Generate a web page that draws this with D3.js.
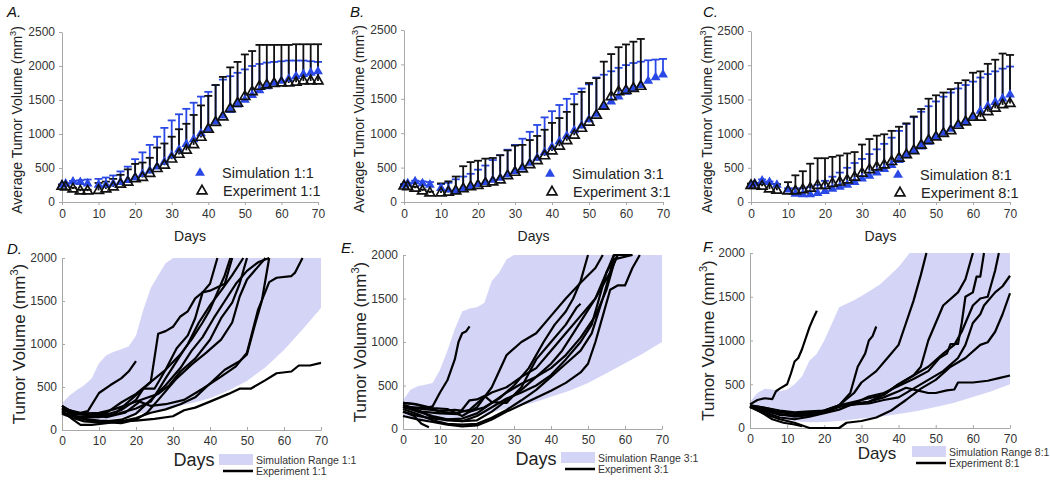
<!DOCTYPE html>
<html><head><meta charset="utf-8">
<script src="https://cdn.jsdelivr.net/npm/d3@7"></script>
<style>body{margin:0;background:#fff}svg{display:block;font-family:"Liberation Sans",Arial,Helvetica,sans-serif}</style>
</head><body><svg id="c" width="1050" height="480"></svg>
<script>
// ---------- Top panels (A, B, C) ----------
const daysTop = [0,1,3,5,7,10,12,14,16,18,20,22,24,26,28,30,32,34,36,38,40,42,44,46,48,50,52,54,56,58,60,62,64,66,68,70];
const xTicks = [0,10,20,30,40,50,60,70];
const yTicksTop = [0,500,1000,1500,2000,2500];
const yTicksBottom = [0,500,1000,1500,2000];

const simA   = [250,270,300,290,270,250,250,270,290,320,360,410,460,520,590,680,770,850,920,1010,1080,1180,1270,1350,1430,1500,1570,1640,1700,1750,1780,1810,1850,1880,1900,1920];
const simAUp = [260,280,310,320,330,340,360,390,450,520,630,730,840,960,1090,1200,1290,1370,1460,1550,1620,1720,1800,1850,1900,1950,2000,2030,2050,2060,2070,2080,2080,2080,2070,2060];
const expA   = [230,220,190,160,160,170,190,220,260,290,340,360,420,490,540,630,700,760,840,950,1070,1170,1250,1370,1450,1550,1620,1700,1720,1740,1750,1750,1760,1780,1780,1780];
const expAUp = [250,240,210,180,180,280,300,340,400,480,560,580,650,800,860,960,1070,1150,1280,1420,1560,1720,1840,1980,2060,2170,2220,2310,2310,2310,2310,2310,2320,2320,2320,2320];

const simB   = [250,270,300,270,250,200,180,170,190,230,260,290,320,350,400,450,500,570,640,720,800,880,960,1040,1110,1200,1280,1380,1460,1530,1600,1650,1700,1760,1810,1850];
const simBUp = [260,280,310,300,290,260,280,330,370,410,470,530,610,680,760,830,920,1020,1120,1230,1320,1410,1500,1570,1650,1710,1810,1850,1900,1950,1990,2020,2040,2060,2070,2080];
const expB   = [230,220,200,160,130,130,140,160,190,220,240,270,290,320,380,430,480,540,600,670,740,810,890,970,1070,1160,1260,1390,1530,1600,1620,1650,1680];
const expBUp = [250,240,220,180,150,270,300,370,520,580,600,630,640,680,750,820,830,900,960,1050,1150,1220,1310,1420,1600,1730,1800,2040,2150,2250,2290,2330,2370];

const simC   = [250,270,310,290,250,180,120,110,110,130,160,190,220,250,290,340,380,430,480,540,610,680,750,810,880,950,1010,1070,1130,1180,1250,1330,1400,1460,1510,1570];
const simCUp = [260,280,330,300,260,200,200,200,220,250,310,370,430,500,570,630,700,770,850,940,1040,1140,1240,1320,1400,1470,1540,1600,1660,1710,1760,1820,1870,1910,1950,1980];
const expC   = [240,240,230,190,170,160,160,180,200,240,240,270,290,320,360,420,470,510,540,590,640,690,750,830,900,950,1000,1040,1120,1170,1240,1240,1320,1370,1420,1440];
const expCUp = [270,270,260,260,260,290,390,450,560,640,640,660,680,710,730,840,920,970,990,1040,1100,1150,1250,1360,1510,1560,1600,1650,1740,1780,1890,1910,2020,2080,2170,2150];

// ---------- Bottom panels (D, E, F) ----------
const rangeDaysD = [0,2,4,6,8,10,12,14,16,18,20,22,24,26,28,30,35,40,45,50,55,60,65,70];
const rangeHiD   = [310,400,465,520,600,775,870,910,940,970,1100,1400,1650,1800,1940,2000,2000,2000,2000,2000,2000,2000,2000,2000];
const rangeLoD   = [160,150,140,130,120,115,120,130,145,165,185,200,215,230,250,265,310,370,460,570,730,930,1170,1420];

const rangeDaysE = [0,2,4,6,8,10,12,14,16,18,20,22,24,26,28,30,35,40,45,50,55,60,65,70];
const rangeHiE   = [330,450,490,510,530,680,900,1150,1350,1385,1400,1450,1700,1800,1950,2000,2000,2000,2000,2000,2000,2000,2000,2000];
const rangeLoE   = [150,130,110,95,85,80,85,95,110,130,150,170,190,215,235,255,300,370,440,530,640,755,870,1000];

const rangeDaysF = [0,2,4,6,8,10,12,14,16,18,20,22,24,26,28,30,35,40,43,45,50,55,60,65,70];
const rangeHiF   = [300,400,450,440,420,440,500,590,770,850,1000,1190,1380,1420,1460,1510,1640,1840,2000,2000,2000,2000,2000,2000,2000];
const rangeLoF   = [230,200,170,140,115,95,80,70,65,65,70,75,80,90,100,110,130,160,180,195,240,290,355,420,500];

const expLinesD = [
  [[0,250],[2,230],[5,200],[7,220],[10,430],[13,520],[16,600],[18,680],[20,800]],
  [[0,210],[3,160],[6,130],[10,110],[15,100],[20,110],[25,130],[30,160],[33,230],[36,260],[40,330],[45,420],[48,480],[51,480],[55,580],[58,660],[62,680],[64,750],[67,750],[70,780]],
  [[0,280],[3,200],[7,180],[12,150],[17,200],[21,330],[24,280],[28,300],[33,350],[38,480],[43,620],[47,740],[50,900],[53,1400],[56,1720],[58,1770],[62,1790],[63,1830],[65,2000]],
  [[0,230],[4,200],[8,190],[12,180],[16,230],[20,350],[22,480],[24,560],[26,1120],[28,1150],[30,1200],[32,1320],[34,1380],[36,1530],[38,1600],[40,1700],[42,2000]],
  [[0,200],[5,150],[10,150],[14,180],[18,330],[22,480],[25,480],[28,700],[31,950],[34,1100],[36,1300],[38,1600],[40,1620],[44,1700],[46,2000]],
  [[0,240],[4,180],[8,170],[12,160],[16,200],[20,250],[24,330],[26,460],[28,600],[31,800],[34,1000],[37,1250],[40,1450],[43,1620],[46,1800],[49,2000]],
  [[0,280],[3,200],[6,190],[10,200],[14,240],[18,300],[22,360],[26,420],[29,520],[32,680],[36,830],[40,1050],[43,1300],[46,1480],[48,1700],[50,2000]],
  [[0,190],[3,140],[6,100],[9,90],[12,100],[16,120],[20,190],[24,350],[28,520],[32,720],[35,920],[38,1080],[41,1300],[44,1500],[47,1700],[50,1850],[53,1950],[56,2000]],
  [[0,250],[4,150],[8,100],[12,90],[16,80],[20,120],[23,200],[27,400],[31,600],[35,760],[39,900],[43,1050],[46,1250],[48,1550],[50,1750],[53,1900],[55,2000]],
  [[0,220],[3,120],[5,60],[8,60],[12,80],[16,100],[20,140],[24,200],[28,240],[32,300],[36,380],[40,540],[44,700],[48,800],[50,880],[52,1200],[54,1500],[56,2000]],
  [[0,260],[4,200],[8,180],[12,200],[16,320],[20,420],[24,560],[28,700],[32,880],[35,1050],[38,1250],[40,1400],[42,1600],[44,1800],[45.5,2000]]
];
const expLinesE = [
  [[0,260],[3,250],[6,240],[8,260],[10,420],[12,560],[14,800],[15,1000],[16,1100],[17,1120],[18,1180]],
  [[0,200],[3,150],[5,60],[7,20]],
  [[0,250],[5,200],[10,180],[15,170],[18,330],[20,340],[22,380],[24,310],[28,300],[32,480],[36,800],[40,1000],[44,1200],[47,1400],[48,1440]],
  [[0,260],[5,230],[10,210],[14,220],[18,200],[22,250],[26,350],[30,500],[34,700],[38,1000],[41,1200],[44,1350],[46,1500],[48,1700],[50,2000]],
  [[0,300],[4,280],[8,240],[12,230],[16,150],[20,250],[24,480],[28,850],[32,1000],[36,1100],[40,1300],[44,1500],[48,1680],[52,1850],[54,2000]],
  [[0,280],[4,220],[8,130],[12,100],[16,90],[20,150],[24,250],[28,350],[32,420],[36,500],[40,620],[44,800],[48,1000],[51,1200],[53,1500],[55,1800],[57,2000],[62,2000]],
  [[0,230],[4,170],[8,100],[12,60],[16,50],[20,60],[24,130],[28,220],[32,330],[36,450],[40,600],[44,750],[48,900],[51,1100],[54,1500],[56,1800],[57,2000]],
  [[0,150],[4,110],[8,80],[12,50],[16,30],[20,40],[24,110],[28,200],[32,280],[36,360],[40,440],[44,530],[48,650],[50,750],[52,1000],[54,1300],[56,1600],[58,1650],[60,1650],[62,1850],[64,2000]],
  [[0,200],[4,150],[8,120],[12,110],[16,120],[20,180],[24,300],[28,420],[32,520],[36,600],[40,700],[44,850],[48,1050],[52,1300],[55,1600],[57,1900],[58,2000],[60,2000]],
  [[0,300],[3,290],[6,250],[10,200],[14,180],[18,220],[22,370],[24,420],[28,480],[32,600],[36,700],[40,900],[44,1100],[48,1300],[52,1500],[55,1800],[57,1950],[62,2000]],
  [[0,260],[4,200],[8,150],[12,110],[16,90],[20,100],[24,200],[28,330],[32,450],[36,600],[40,750],[43,900],[46,1100],[49,1300],[52,1500],[56,1800],[58,2000],[60,2000]]
];
const expLinesF = [
  [[0,270],[2,320],[4,340],[6,330],[7,420],[8,450],[10,500],[11,620],[12,760],[13,800],[14,900],[16,1150],[17,1250],[18,1340]],
  [[0,260],[4,230],[8,200],[12,180],[16,190],[20,200],[24,260],[27,400],[29,700],[31,850],[32,1000],[33,1050],[34,1160]],
  [[0,250],[3,180],[6,100],[9,60],[12,40],[14,20]],
  [[0,240],[4,160],[8,100],[12,60],[16,0],[20,0],[24,0],[26,60],[30,80],[34,120],[38,200],[42,320],[46,450],[50,550],[54,700],[58,800],[62,950],[64,980],[66,1100],[68,1300],[70,1540]],
  [[0,250],[4,200],[8,160],[12,130],[16,150],[20,180],[24,240],[28,270],[32,300],[36,350],[40,420],[42,460],[45,430],[48,400],[50,400],[53,430],[55,440],[56,520],[60,520],[64,540],[67,570],[70,600]],
  [[0,240],[4,200],[8,150],[12,140],[16,150],[20,200],[24,250],[28,270],[32,280],[36,320],[40,350],[44,450],[48,550],[52,650],[56,800],[58,950],[60,1200],[62,1300],[63,1400],[66,1550],[68,1620],[70,1740]],
  [[0,260],[4,230],[8,190],[12,170],[16,170],[20,200],[24,260],[28,400],[30,520],[34,650],[37,800],[40,950],[42,1200],[44,1450],[46,1750],[47.5,2000]],
  [[0,250],[4,210],[8,160],[12,140],[16,150],[20,180],[24,260],[28,300],[32,340],[36,380],[40,500],[44,600],[46,700],[48,1000],[50,1200],[52,1400],[56,1550],[58,1700],[60,2000]],
  [[0,240],[4,180],[8,120],[12,100],[16,130],[20,170],[24,210],[28,280],[32,360],[36,400],[40,480],[44,560],[48,650],[51,800],[53,850],[54,960],[56,960],[57,1200],[58,1500],[60,1550],[61,1730],[62,1730],[63,2000]],
  [[0,250],[4,220],[8,180],[12,160],[16,160],[20,180],[24,250],[28,280],[32,300],[36,380],[40,500],[44,600],[48,700],[52,850],[55,950],[57,1100],[60,1400],[62,1480],[64,1500],[66,1800],[67,2000]]
];

const labelsTop = ["Simulation 1:1","Experiment 1:1","Simulation 3:1","Experiment 3:1","Simulation 8:1","Experiment 8:1"];
const labelsBottom = ["Simulation Range 1:1","Experiment 1:1","Simulation Range 3:1","Experiment 3:1","Simulation Range 8:1","Experiment 8:1"];

// ---------- drawing ----------
const svg = d3.select("#c");
const BLUE = "#2a48e6";
const LAV = "#d4d4f7";
const AXC = "#a8a8a8";
const TXT = "#333";
const fmt = d3.format("d");
const tri = d3.symbol().type(d3.symbolTriangle).size(42);

function styleAxis(a, fs){
  a.select(".domain").attr("stroke", AXC).attr("stroke-width",1);
  a.selectAll(".tick line").attr("stroke", AXC);
  a.selectAll(".tick text").attr("fill", TXT).attr("font-size", fs).attr("font-family","Liberation Sans, Arial, sans-serif");
}

function volLabel(x, y, txt, fs){
  const t = svg.append("text").attr("transform",`translate(${x},${y}) rotate(-90)`)
    .attr("text-anchor","middle").attr("font-size",fs).attr("fill","#222");
  t.append("tspan").text(txt + " (mm");
  t.append("tspan").text("3").attr("font-size", fs*0.65).attr("dy", -fs*0.4);
  t.append("tspan").text(")").attr("dy", fs*0.4);
}

function topPanel(c){
  const x = d3.scaleLinear().domain([0,70]).range([c.x0,c.x1]);
  const y = d3.scaleLinear().domain([0,2500]).range([c.y0,c.y1]);
  const g = svg.append("g");
  const ax = g.append("g").attr("transform",`translate(0,${c.y0})`)
    .call(d3.axisBottom(x).tickValues(xTicks).tickFormat(fmt).tickSize(3).tickPadding(4).tickSizeOuter(0));
  styleAxis(ax, 12);
  const ay = g.append("g").attr("transform",`translate(${c.x0},0)`)
    .call(d3.axisLeft(y).tickValues(yTicksTop).tickFormat(fmt).tickSize(3).tickPadding(4).tickSizeOuter(0));
  styleAxis(ay, 12);

  function bars(days, mean, up, color){
    const gg = g.append("g").attr("stroke",color).attr("stroke-width",1.8);
    days.forEach((d,i)=>{
      gg.append("line").attr("x1",x(d)).attr("x2",x(d)).attr("y1",y(mean[i])).attr("y2",y(up[i]));
      gg.append("line").attr("x1",x(d)-4).attr("x2",x(d)+4).attr("y1",y(up[i])).attr("y2",y(up[i]));
    });
  }
  bars(daysTop.slice(0,c.sim.length), c.sim, c.simUp, BLUE);
  bars(daysTop.slice(0,c.exp.length), c.exp, c.expUp, "#111");
  g.append("g").selectAll("path").data(c.sim).join("path")
    .attr("d", tri).attr("fill", BLUE)
    .attr("transform",(v,i)=>`translate(${x(daysTop[i])},${y(v)})`);
  g.append("g").selectAll("path").data(c.exp).join("path")
    .attr("d", tri).attr("fill","none").attr("stroke","#111").attr("stroke-width",1.7)
    .attr("transform",(v,i)=>`translate(${x(daysTop[i])},${y(v)})`);

  // legend
  g.append("path").attr("d",tri).attr("fill",BLUE).attr("transform",`translate(${c.lx},${c.ly})`);
  g.append("path").attr("d",tri).attr("fill","none").attr("stroke","#111").attr("stroke-width",1.7).attr("transform",`translate(${c.lx+2},${c.ly+18})`);
  g.append("text").attr("x",c.lx+22).attr("y",c.ly+5).attr("font-size",14.5).attr("fill","#222").text(c.l1);
  g.append("text").attr("x",c.lx+23).attr("y",c.ly+23).attr("font-size",14.5).attr("fill","#222").text(c.l2);

  volLabel(c.ylx, (c.y0+c.y1)/2+3, "Average Tumor Volume", 14);
  g.append("text").attr("x",(c.x0+c.x1)/2).attr("y",241).attr("text-anchor","middle").attr("font-size",14).attr("fill","#222").text("Days");
  g.append("text").attr("x",c.px).attr("y",17).attr("font-size",15).attr("font-style","italic").attr("fill","#111").text(c.letter);
}

function bottomPanel(c){
  const x = d3.scaleLinear().domain([0,70]).range([c.x0,c.x1]);
  const y = d3.scaleLinear().domain([0,2000]).range([c.y0,c.y1]);
  const g = svg.append("g");
  const rng = c.days.map((d,i)=>({d, lo:c.lo[i], hi:c.hi[i]}));
  g.append("path").datum(rng)
    .attr("d", d3.area().x(p=>x(p.d)).y0(p=>y(p.lo)).y1(p=>y(p.hi)))
    .attr("fill", LAV);
  const ax = g.append("g").attr("transform",`translate(0,${c.y0})`)
    .call(d3.axisBottom(x).tickValues(xTicks).tickFormat(fmt).tickSize(-3).tickPadding(6).tickSizeOuter(0));
  styleAxis(ax, 12);
  const ay = g.append("g").attr("transform",`translate(${c.x0},0)`)
    .call(d3.axisLeft(y).tickValues(yTicksBottom).tickFormat(fmt).tickSize(-3).tickPadding(5).tickSizeOuter(0));
  styleAxis(ay, 12);
  const line = d3.line().x(p=>x(p[0])).y(p=>y(p[1]));
  g.append("g").selectAll("path").data(c.lines).join("path")
    .attr("d", line).attr("fill","none").attr("stroke","#000").attr("stroke-width",2.2).attr("stroke-linejoin","round");

  volLabel(c.ylx, (c.y0+c.y1)/2, "Tumor Volume", 17);
  g.append("text").attr("x",c.dx).attr("y",c.dy).attr("text-anchor","middle").attr("font-size",c.dfs).attr("fill","#222").text("Days");
  g.append("rect").attr("x",c.lgx).attr("y",c.lgy-6).attr("width",34).attr("height",11).attr("fill",LAV);
  g.append("text").attr("x",c.lgx+37).attr("y",c.lgy+4).attr("font-size",10.5).attr("fill",TXT).text(c.l1);
  g.append("line").attr("x1",c.lgx+4).attr("x2",c.lgx+34).attr("y1",c.lgy+11).attr("y2",c.lgy+11).attr("stroke","#000").attr("stroke-width",2.5);
  g.append("text").attr("x",c.lgx+37).attr("y",c.lgy+15).attr("font-size",10.5).attr("fill",TXT).text(c.l2);
  g.append("text").attr("x",c.px).attr("y",c.py).attr("font-size",15).attr("font-style","italic").attr("fill","#111").text(c.letter);
}

topPanel({x0:62,x1:318,y0:202,y1:32,sim:simA,simUp:simAUp,exp:expA,expUp:expAUp,lx:200,ly:173,l1:labelsTop[0],l2:labelsTop[1],ylx:22,px:7,letter:"A."});
topPanel({x0:404,x1:663,y0:202,y1:30,sim:simB,simUp:simBUp,exp:expB,expUp:expBUp,lx:550,ly:174,l1:labelsTop[2],l2:labelsTop[3],ylx:364,px:350,letter:"B."});
topPanel({x0:751,x1:1010,y0:202,y1:31,sim:simC,simUp:simCUp,exp:expC,expUp:expCUp,lx:898,ly:175,l1:labelsTop[4],l2:labelsTop[5],ylx:712,px:703,letter:"C."});

bottomPanel({x0:62,x1:321,y0:430,y1:258,days:rangeDaysD,lo:rangeLoD,hi:rangeHiD,lines:expLinesD,ylx:25,dx:194,dy:466,dfs:18,lgx:219,lgy:460,l1:labelsBottom[0],l2:labelsBottom[1],px:7,py:254,letter:"D."});
bottomPanel({x0:403,x1:662,y0:429,y1:255,days:rangeDaysE,lo:rangeLoE,hi:rangeHiE,lines:expLinesE,ylx:366,dx:536,dy:465,dfs:18,lgx:561,lgy:458,l1:labelsBottom[2],l2:labelsBottom[3],px:341,py:253,letter:"E."});
bottomPanel({x0:750,x1:1010,y0:428,y1:253,days:rangeDaysF,lo:rangeLoF,hi:rangeHiF,lines:expLinesF,ylx:714,dx:877,dy:459,dfs:17,lgx:912,lgy:452,l1:labelsBottom[4],l2:labelsBottom[5],px:703,py:252,letter:"F."});
</script></body></html>
